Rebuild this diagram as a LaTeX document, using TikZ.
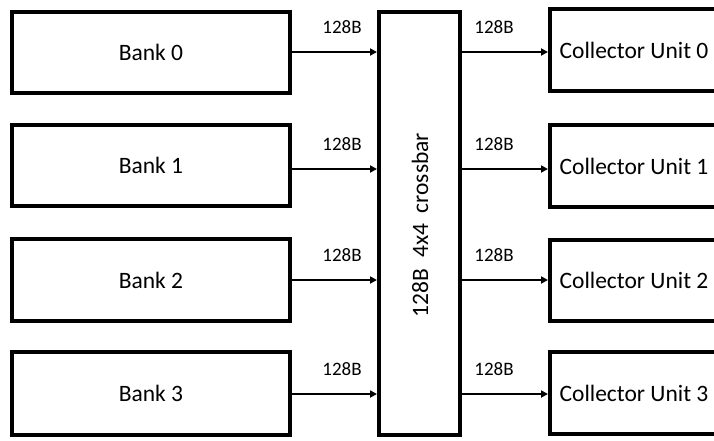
\documentclass[tikz,border=0pt]{standalone}
\usepackage{fontspec}
\setmainfont{Carlito}
\usetikzlibrary{arrows.meta,calc}
\begin{document}
\begin{tikzpicture}[x=1pt,y=-1pt,
  box/.style={draw=black,line width=4pt,rectangle,inner sep=0pt,font=\fontsize{23.5}{28}\selectfont},
  conn/.style={line width=2pt,-{Triangle[length=7pt,width=7pt]}},
  lbl/.style={font=\fontsize{19}{22}\selectfont,inner sep=0pt}]
\useasboundingbox (0,0) rectangle (714,440);
\clip (0,0) rectangle (714,440);
\node[box,minimum width=278pt,minimum height=81pt] (b0) at (151,52.5) {Bank 0};
\node[box,minimum width=278pt,minimum height=81pt] (b1) at (151,165.5) {Bank 1};
\node[box,minimum width=278pt,minimum height=82pt] (b2) at (151,280) {Bank 2};
\node[box,minimum width=278pt,minimum height=83pt] (b3) at (151,393.5) {Bank 3};
\node[box,minimum width=81pt,minimum height=423pt] (xb) at (419.5,223.5) {};
\node[font=\fontsize{23.5}{28}\selectfont,rotate=90] (xt) at (420,225) {128B\ \ 4x4\ \ crossbar};
\node[box,minimum width=168pt,minimum height=82pt] (c0) at (634,50) {Collector Unit 0};
\node[box,minimum width=168pt,minimum height=82pt] (c1) at (634,166) {Collector Unit 1};
\node[box,minimum width=168pt,minimum height=81pt] (c2) at (634,280.5) {Collector Unit 2};
\node[box,minimum width=168pt,minimum height=82pt] (c3) at (634,393) {Collector Unit 3};
\foreach \i/\d in {0/-0.5,1/3.5,2/0,3/0.5}{
  \coordinate (s\i) at ($(b\i.east)+(0,\d)$);
  \draw[conn] (s\i) -- (s\i -| xb.west);
  \draw[conn] (s\i -| xb.east) -- (s\i -| c\i.west);
  \node[lbl] (l\i) at ($(s\i)+(50,-25)$) {128B};
  \node[lbl] (r\i) at ($(s\i -| xb.east)+(32,-25)$) {128B};
}
\end{tikzpicture}
\end{document}
